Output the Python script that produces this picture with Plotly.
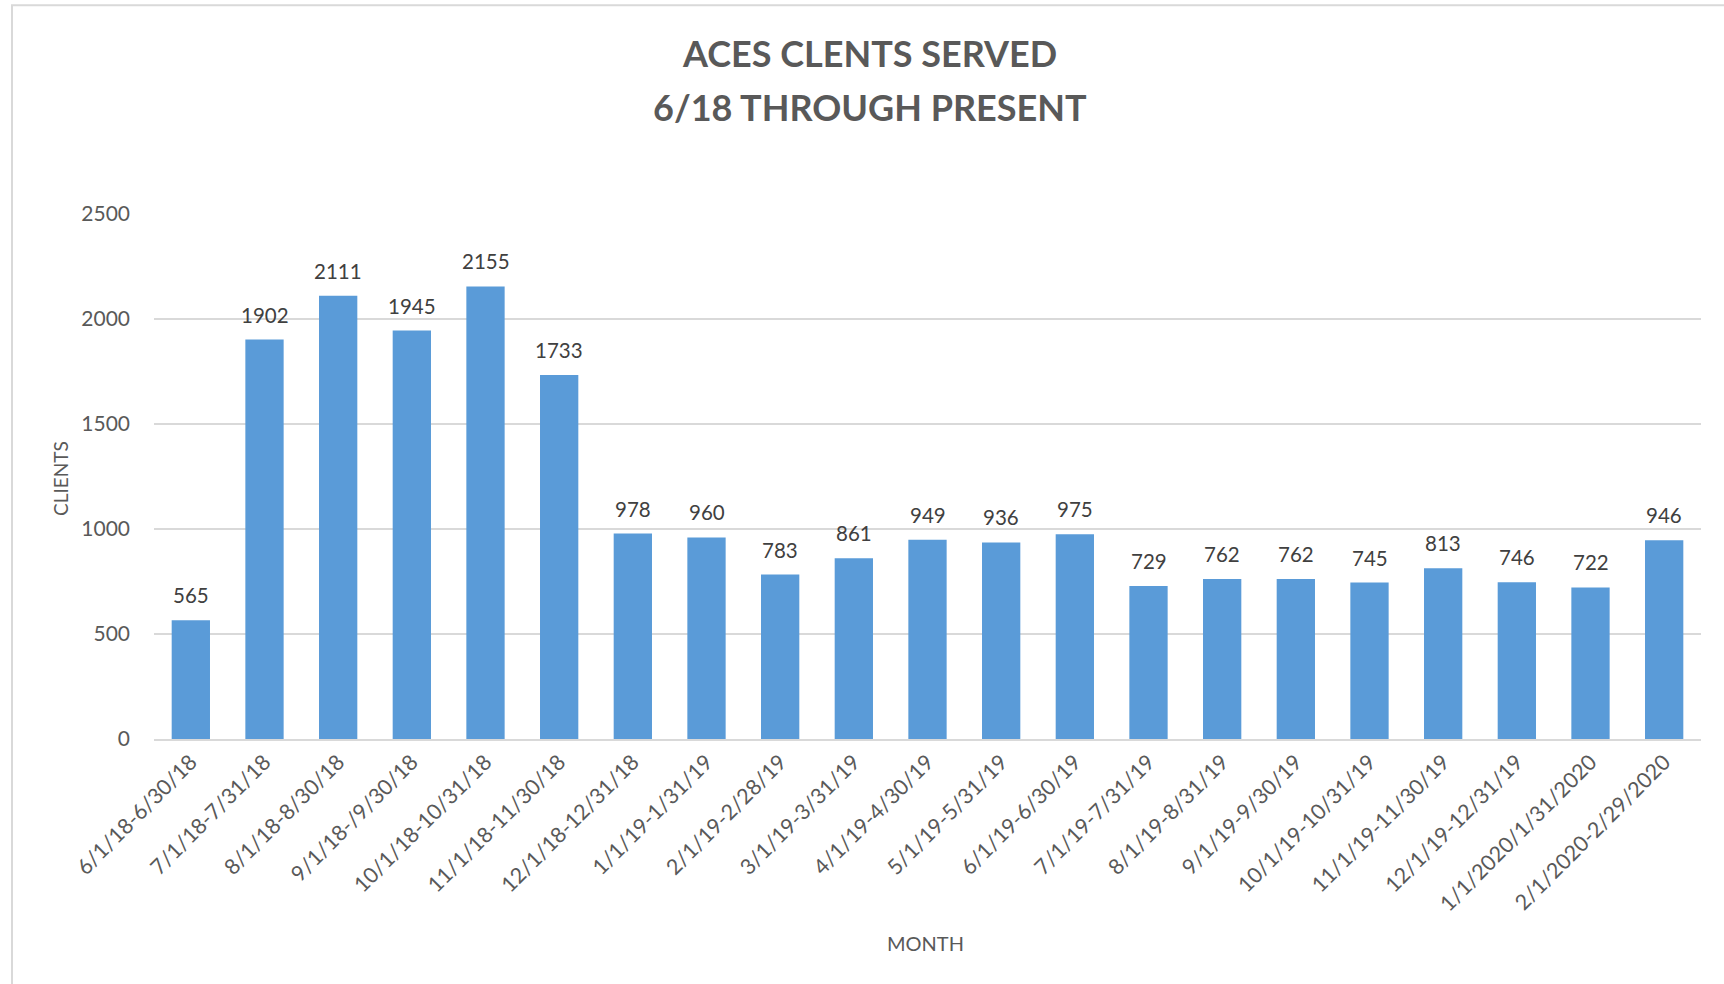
import plotly.graph_objects as go

categories = ["6/1/18-6/30/18", "7/1/18-7/31/18", "8/1/18-8/30/18", "9/1/18-/9/30/18",
              "10/1/18-10/31/18", "11/1/18-11/30/18", "12/1/18-12/31/18", "1/1/19-1/31/19",
              "2/1/19-2/28/19", "3/1/19-3/31/19", "4/1/19-4/30/19", "5/1/19-5/31/19",
              "6/1/19-6/30/19", "7/1/19-7/31/19", "8/1/19-8/31/19", "9/1/19-9/30/19",
              "10/1/19-10/31/19", "11/1/19-11/30/19", "12/1/19-12/31/19", "1/1/2020/1/31/2020",
              "2/1/2020-2/29/2020"]
clients = [565, 1902, 2111, 1945, 2155, 1733, 978, 960, 783, 861, 949, 936, 975,
           729, 762, 762, 745, 813, 746, 722, 946]
y_ticks = [0, 500, 1000, 1500, 2000, 2500]

FONT = "Lato"
GREY = "#595959"

fig = go.Figure()
fig.add_trace(go.Bar(
    x=categories, y=clients,
    marker=dict(color="#5a9bd8", line=dict(width=0)),
    hoverinfo="x+y",
))

# data labels above each bar
for c, v in zip(categories, clients):
    fig.add_annotation(x=c, y=v, xref="x", yref="y", text=str(v), showarrow=False,
                       yanchor="middle", yshift=25,
                       font=dict(family=FONT, size=20.5, color="#404040"))

# titles
fig.add_annotation(text="<b>ACES CLENTS SERVED</b>", xref="paper", yref="paper",
                   x=0.4628, y=1.3067, xanchor="center", yanchor="middle", showarrow=False,
                   font=dict(family=FONT, size=36, color=GREY))
fig.add_annotation(text="<b>6/18 THROUGH PRESENT</b>", xref="paper", yref="paper",
                   x=0.4628, y=1.2038, xanchor="center", yanchor="middle", showarrow=False,
                   font=dict(family=FONT, size=36, color=GREY))
fig.add_annotation(text="CLIENTS", xref="paper", yref="paper", textangle=-90,
                   x=-0.0608, y=0.497, xanchor="center", yanchor="middle", showarrow=False,
                   font=dict(family=FONT, size=19, color=GREY))
fig.add_annotation(text="MONTH", xref="paper", yref="paper",
                   x=0.499, y=-0.3886, xanchor="center", yanchor="middle", showarrow=False,
                   font=dict(family=FONT, size=20, color=GREY))

fig.update_layout(
    width=1724, height=984,
    margin=dict(l=154, r=23, t=214, b=245),
    paper_bgcolor="white", plot_bgcolor="white",
    bargap=0.48,
    showlegend=False,
    font=dict(family=FONT, color=GREY),
)
fig.update_xaxes(
    automargin=False,
    tickangle=-45, tickfont=dict(family=FONT, size=21.5, color=GREY),
    showline=True, linecolor="#d9d9d9", linewidth=2, ticks="",
)
fig.update_yaxes(
    automargin=False,
    range=[0, 2500], tickvals=y_ticks,
    tickfont=dict(family=FONT, size=21, color=GREY),
    ticklabelstandoff=23,
    showgrid=True, gridcolor="#d9d9d9", gridwidth=1.5,
    zeroline=False, showline=False, ticks="",
)
# outer chart frame
fig.add_shape(type="rect", xref="paper", yref="paper",
              x0=-0.0918, x1=1.03, y0=-0.6, y1=1.3975,
              line=dict(color="#d9d9d9", width=2), fillcolor="rgba(0,0,0,0)", layer="below")

fig.write_html("out.html", config={"displayModeBar": False},
               post_script="document.body.style.margin='0';")
